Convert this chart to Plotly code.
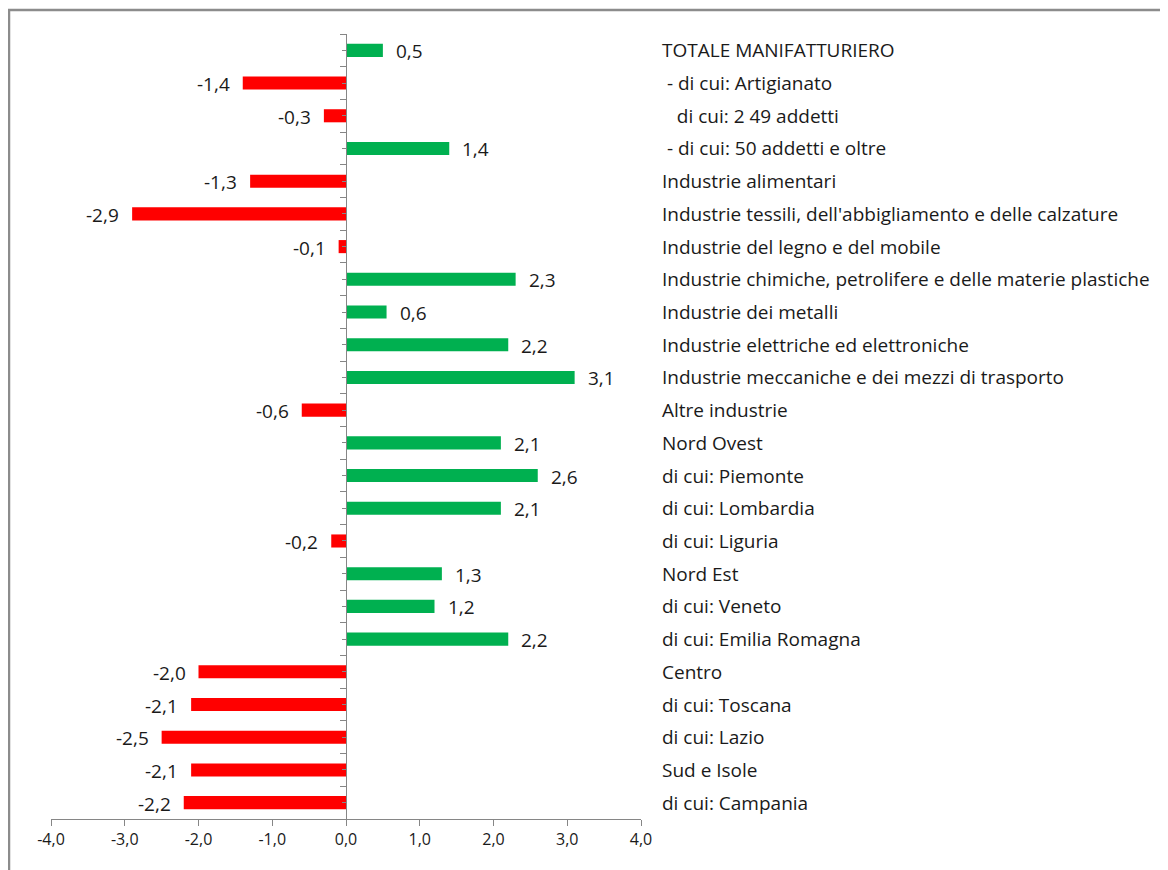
import plotly.graph_objects as go

categories = [
    "TOTALE MANIFATTURIERO",
    "\u00a0- di cui: Artigianato",
    "\u00a0\u00a0\u00a0di cui: 2 49 addetti",
    "\u00a0- di cui: 50 addetti e oltre",
    "Industrie alimentari",
    "Industrie tessili, dell'abbigliamento e delle calzature",
    "Industrie del legno e del mobile",
    "Industrie chimiche, petrolifere e delle materie plastiche",
    "Industrie dei metalli",
    "Industrie elettriche ed elettroniche",
    "Industrie meccaniche e dei mezzi di trasporto",
    "Altre industrie",
    "Nord Ovest",
    "di cui: Piemonte",
    "di cui: Lombardia",
    "di cui: Liguria",
    "Nord Est",
    "di cui: Veneto",
    "di cui: Emilia Romagna",
    "Centro",
    "di cui: Toscana",
    "di cui: Lazio",
    "Sud e Isole",
    "di cui: Campania",
]
values = [0.5, -1.4, -0.3, 1.4, -1.3, -2.9, -0.1, 2.3, 0.55, 2.2, 3.1, -0.6,
          2.1, 2.6, 2.1, -0.2, 1.3, 1.2, 2.2, -2.0, -2.1, -2.5, -2.1, -2.2]
value_labels = ["0,5", "-1,4", "-0,3", "1,4", "-1,3", "-2,9", "-0,1", "2,3", "0,6", "2,2", "3,1", "-0,6",
                "2,1", "2,6", "2,1", "-0,2", "1,3", "1,2", "2,2", "-2,0", "-2,1", "-2,5", "-2,1", "-2,2"]
x_tickvals = [-4, -3, -2, -1, 0, 1, 2, 3, 4]
x_ticktext = ["-4,0", "-3,0", "-2,0", "-1,0", "0,0", "1,0", "2,0", "3,0", "4,0"]

GREEN = "#00B050"
RED = "#FF0000"
FONT = "Open Sans"
AXIS = "#868686"
TXT = "#1a1a1a"

n = len(categories)
ypos = list(range(n))
colors = [GREEN if v >= 0 else RED for v in values]

fig = go.Figure()
fig.add_trace(go.Bar(
    x=values, y=ypos, orientation="h", marker=dict(color=colors, line=dict(width=0)),
    width=0.4, hoverinfo="skip", showlegend=False,
))

# page has an 8px body margin; figure sized to fit the window
W, H = 1160, 862
ml, mr, mt, mb = 43, W - 633, 26, H - 811
pw = W - ml - mr
ph = H - mt - mb

annotations = []
for i, (v, lab) in enumerate(zip(values, value_labels)):
    annotations.append(dict(
        x=v, y=i, xref="x", yref="y", text=lab, showarrow=False,
        xanchor="left" if v >= 0 else "right", xshift=11 if v >= 0 else -11,
        yshift=-1, font=dict(family=FONT, size=19, color=TXT),
    ))
for i, c in enumerate(categories):
    annotations.append(dict(
        x=(660 - 8 - ml) / pw, y=i, xref="paper", yref="y", text=c, showarrow=False,
        xanchor="left", yanchor="middle", yshift=0,
        font=dict(family=FONT, size=19, color=TXT),
    ))

fig.update_layout(
    width=W, height=H,
    margin=dict(l=ml, r=mr, t=mt, b=mb),
    paper_bgcolor="white", plot_bgcolor="white",
    annotations=annotations,
    xaxis=dict(
        range=[-4, 4], tickvals=x_tickvals, ticktext=x_ticktext,
        showgrid=False, zeroline=False, showline=True, linecolor=AXIS, linewidth=1,
        ticks="outside", ticklen=6, tickcolor=AXIS, tickwidth=1,
        tickfont=dict(family=FONT, size=16, color=TXT),
    ),
    yaxis=dict(
        range=[n - 0.5, -0.5], showgrid=False, zeroline=False,
        anchor="free", position=0.5, showline=True, linecolor=AXIS, linewidth=1,
        tickvals=[i - 0.5 for i in range(n + 1)], ticks="outside", ticklen=6,
        tickcolor=AXIS, showticklabels=False,
        minor=dict(tickvals=ypos, ticks="outside", ticklen=4, tickcolor=AXIS),
    ),
    shapes=[dict(
        type="rect", xref="paper", yref="paper",
        x0=(1 - ml) / pw, x1=2, y0=-1, y1=1 + (mt - 2) / ph,
        line=dict(color="#8c8c8c", width=2.5), fillcolor="rgba(0,0,0,0)", layer="below",
    )],
)

fig.write_html("out.html")
